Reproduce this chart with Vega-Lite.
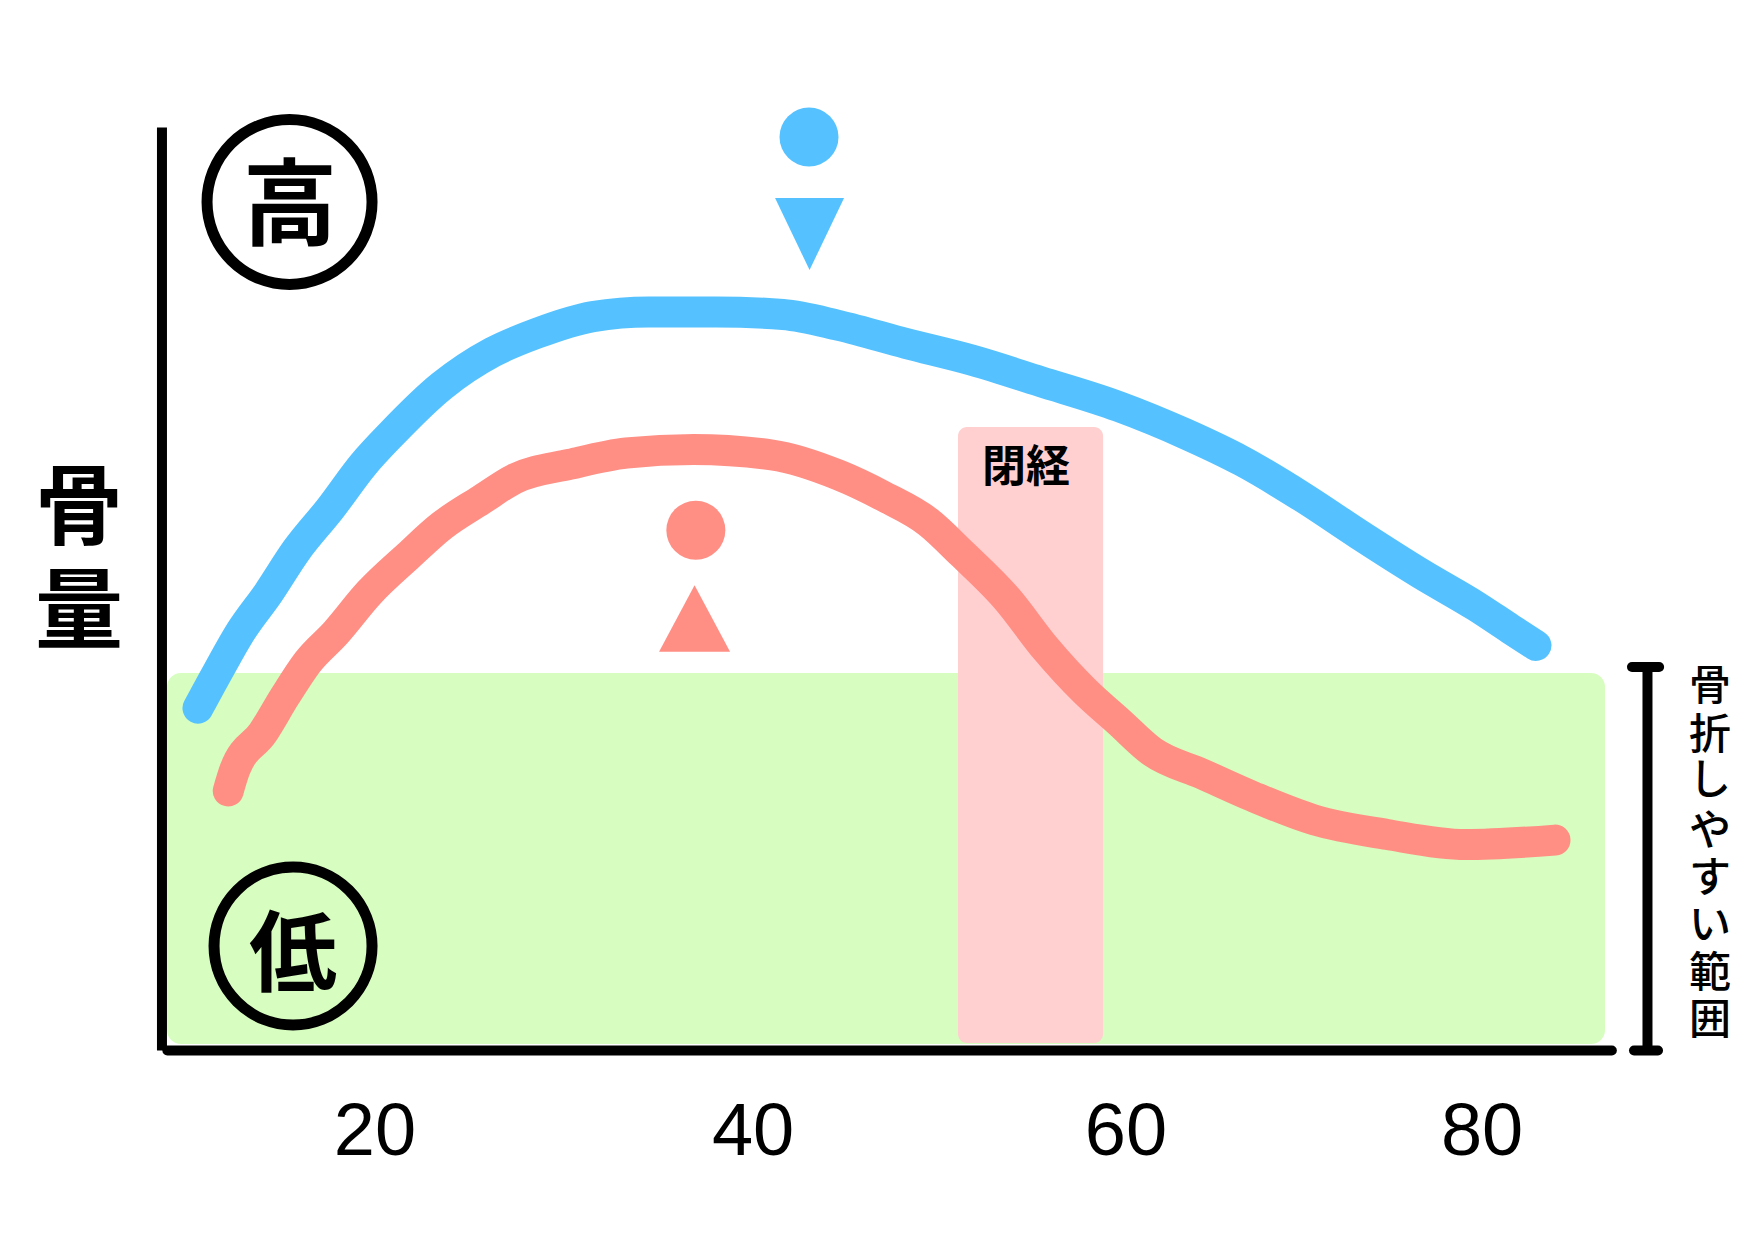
{
"$schema":"https://vega.github.io/schema/vega-lite/v6.json",
"autosize":{"type":"fit","contains":"padding"},
"padding":0,"width":1754,"height":1240,"background":"#ffffff",
"config":{"view":{"stroke":null}},
"datasets":{
"curves":[
{"sex":"男性","age":10.41,"mass":34.14},{"sex":"男性","age":11.5,"mass":37.83},{"sex":"男性","age":12.71,"mass":41.75},{"sex":"男性","age":14.23,"mass":45.66},{"sex":"男性","age":15.74,"mass":49.91},{"sex":"男性","age":17.56,"mass":54.05},{"sex":"男性","age":19.38,"mass":58.53},{"sex":"男性","age":20.89,"mass":61.55},{"sex":"男性","age":23.62,"mass":66.36},{"sex":"男性","age":26.35,"mass":69.71},{"sex":"男性","age":28.77,"mass":71.62},{"sex":"男性","age":31.8,"mass":73.29},{"sex":"男性","age":34.83,"mass":73.76},{"sex":"男性","age":38.47,"mass":73.76},{"sex":"男性","age":42.1,"mass":73.5},{"sex":"男性","age":45.13,"mass":72.4},{"sex":"男性","age":48.77,"mass":70.6},{"sex":"男性","age":52.4,"mass":68.9},{"sex":"男性","age":56.04,"mass":66.8},{"sex":"男性","age":60.28,"mass":64.3},{"sex":"男性","age":63.92,"mass":61.55},{"sex":"男性","age":66.95,"mass":58.86},{"sex":"男性","age":70.28,"mass":55.2},{"sex":"男性","age":73.31,"mass":51.5},{"sex":"男性","age":76.64,"mass":47.6},{"sex":"男性","age":79.67,"mass":44.3},{"sex":"男性","age":81.49,"mass":42.08},{"sex":"男性","age":82.89,"mass":40.41},
{"sex":"女性","age":12.05,"mass":25.86},{"sex":"女性","age":12.41,"mass":27.99},{"sex":"女性","age":13.93,"mass":31.68},{"sex":"女性","age":15.14,"mass":35.37},{"sex":"女性","age":16.35,"mass":38.73},{"sex":"女性","age":17.86,"mass":41.64},{"sex":"女性","age":19.68,"mass":45.66},{"sex":"女性","age":21.8,"mass":49.36},{"sex":"女性","age":23.62,"mass":52.37},{"sex":"女性","age":25.74,"mass":54.95},{"sex":"女性","age":27.56,"mass":57.07},{"sex":"女性","age":30.59,"mass":58.53},{"sex":"女性","age":33.62,"mass":59.65},{"sex":"女性","age":37.26,"mass":60.0},{"sex":"女性","age":41.5,"mass":59.45},{"sex":"女性","age":45.13,"mass":57.43},{"sex":"女性","age":47.56,"mass":55.31},{"sex":"女性","age":49.98,"mass":52.73},{"sex":"女性","age":51.8,"mass":49.58},{"sex":"女性","age":54.22,"mass":45.1},{"sex":"女性","age":56.34,"mass":40.07},{"sex":"女性","age":58.46,"mass":35.82},{"sex":"女性","age":60.28,"mass":32.8},{"sex":"女性","age":62.1,"mass":29.78},{"sex":"女性","age":64.83,"mass":27.54},{"sex":"女性","age":67.55,"mass":25.3},{"sex":"女性","age":70.89,"mass":22.95},{"sex":"女性","age":74.83,"mass":21.5},{"sex":"女性","age":79.07,"mass":20.49},{"sex":"女性","age":83.92,"mass":20.94}
],
"risk":[{"a1":8.73,"a2":86.63,"m1":0.55,"m2":37.65}],
"meno":[{"a1":51.58,"a2":59.44,"m1":0.65,"m2":62.25}],
"vrules":[{"a":8.46,"m1":-0.1,"m2":92.2},{"a":88.93,"m1":-0.1,"m2":38.25}],
"hrules":[{"m":-0.1,"a1":8.75,"a2":87.0},{"m":38.25,"a1":88.09,"a2":89.56},{"m":-0.1,"a1":88.2,"a2":89.5}],
"heads":[{"sex":"男性","age":43.51,"mass":91.25},{"sex":"女性","age":37.38,"mass":51.93}],
"ticks":[{"age":20,"mass":-10.55,"label":"20"},{"age":40.48,"mass":-10.55,"label":"40"},{"age":60.68,"mass":-10.55,"label":"60"},{"age":79.97,"mass":-10.55,"label":"80"}],
"big":[{"age":3.97,"mass":53.85,"t":"骨"},{"age":3.97,"mass":43.45,"t":"量"},{"age":15.56,"mass":9.2,"t":"低"}],
"side":[{"age":92.32,"mass":36.25,"t":"骨"},{"age":92.32,"mass":31.35,"t":"折"},{"age":92.32,"mass":26.85,"t":"し"},{"age":92.32,"mass":21.75,"t":"や"},{"age":92.32,"mass":17.05,"t":"す"},{"age":92.32,"mass":12.35,"t":"い"},{"age":92.32,"mass":7.55,"t":"範"},{"age":92.32,"mass":2.85,"t":"囲"}]
},
"encoding":{
"x":{"field":"age","type":"quantitative","scale":{"domain":[-0.314,94.7],"nice":false,"zero":false},"axis":null},
"y":{"field":"mass","type":"quantitative","scale":{"domain":[-19.05,104.95],"nice":false,"zero":false},"axis":null}
},
"layer":[
{"data":{"name":"risk"},"mark":{"type":"rect","color":"#d7fec0","cornerRadius":14},"encoding":{"x":{"field":"a1","type":"quantitative"},"x2":{"field":"a2"},"y":{"field":"m1","type":"quantitative"},"y2":{"field":"m2"}}},
{"data":{"name":"meno"},"mark":{"type":"rect","color":"#ffd0cf","cornerRadius":9},"encoding":{"x":{"field":"a1","type":"quantitative"},"x2":{"field":"a2"},"y":{"field":"m1","type":"quantitative"},"y2":{"field":"m2"}}},
{"data":{"name":"vrules"},"mark":{"type":"rule","color":"#000000","strokeWidth":10},"encoding":{"x":{"field":"a","type":"quantitative"},"y":{"field":"m1","type":"quantitative"},"y2":{"field":"m2"}}},
{"data":{"name":"hrules"},"mark":{"type":"rule","color":"#000000","strokeWidth":10,"strokeCap":"round"},"encoding":{"y":{"field":"m","type":"quantitative"},"x":{"field":"a1","type":"quantitative"},"x2":{"field":"a2"}}},
{"data":{"name":"curves"},"mark":{"type":"line","strokeWidth":31,"strokeCap":"round","strokeJoin":"round","interpolate":"monotone"},"encoding":{"detail":{"field":"sex"},"color":{"field":"sex","type":"nominal","legend":null,"scale":{"domain":["男性","女性"],"range":["#55c2ff","#ff8f85"]}},"order":{"field":"age","type":"quantitative"}}},
{"data":{"name":"heads"},"mark":{"type":"point","shape":"circle","filled":true,"opacity":1,"size":3481},"encoding":{"color":{"field":"sex","type":"nominal","legend":null,"scale":{"domain":["男性","女性"],"range":["#55c2ff","#ff8f85"]}}}},
{"data":{"values":[{"age":43.54,"mass":81.7}]},"mark":{"type":"point","shape":"M -1 -1 L 1 -1 L 0 1.087 Z","filled":true,"opacity":1,"size":4761,"color":"#55c2ff"}},
{"data":{"values":[{"age":37.31,"mass":43.1}]},"mark":{"type":"point","shape":"M 0 -0.94 L 1 0.94 L -1 0.94 Z","filled":true,"opacity":1,"size":5041,"color":"#ff8f85"}},
{"data":{"values":[{"age":15.37,"mass":84.75}]},"mark":{"type":"point","shape":"circle","filled":false,"opacity":1,"color":"#000000","strokeWidth":11,"size":27225}},
{"data":{"values":[{"age":15.56,"mass":10.35}]},"mark":{"type":"point","shape":"circle","filled":false,"opacity":1,"color":"#000000","strokeWidth":11,"size":24964}},
{"data":{"name":"ticks"},"mark":{"type":"text","font":"Liberation Sans","fontSize":74,"color":"#000000","align":"center","baseline":"alphabetic"},"encoding":{"text":{"field":"label","type":"nominal"}}},
{"data":{"name":"big"},"mark":{"type":"text","font":"Noto Sans CJK JP","fontWeight":"bold","fontSize":88,"color":"#000000","align":"center","baseline":"middle"},"encoding":{"text":{"field":"t","type":"nominal"}}},
{"data":{"values":[{"age":15.4,"mass":83.95,"t":"高"}]},"mark":{"type":"text","font":"Noto Sans CJK JP","fontWeight":"bold","fontSize":94,"color":"#000000","align":"center","baseline":"middle"},"encoding":{"text":{"field":"t","type":"nominal"}}},
{"data":{"name":"side"},"mark":{"type":"text","font":"Noto Sans CJK JP","fontWeight":500,"fontSize":42,"color":"#000000","align":"center","baseline":"middle"},"encoding":{"text":{"field":"t","type":"nominal"}}},
{"data":{"values":[{"age":55.27,"mass":58.1,"t":"閉経"}]},"mark":{"type":"text","font":"Noto Sans CJK JP","fontWeight":"bold","fontSize":44,"color":"#000000","align":"center","baseline":"middle"},"encoding":{"text":{"field":"t","type":"nominal"}}}
]
}
